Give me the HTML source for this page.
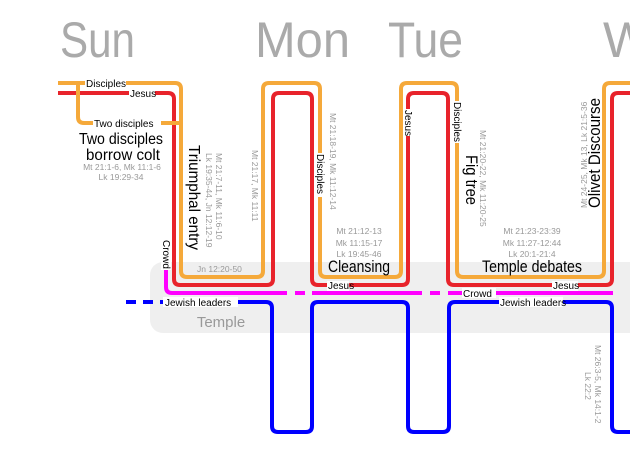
<!DOCTYPE html>
<html><head><meta charset="utf-8"><style>
html,body{margin:0;padding:0;background:#fff;}
svg{display:block;font-family:"Liberation Sans",sans-serif;}
</style></head><body>
<svg width="630" height="451" viewBox="0 0 630 451" xmlns="http://www.w3.org/2000/svg">
<rect x="150" y="262" width="500" height="71" rx="13" fill="#efefef"/>
<text x="221" y="327" font-size="15" fill="#999" text-anchor="middle">Temple</text>
<g font-size="50" fill="#aaa">
<text x="60" y="57" textLength="75" lengthAdjust="spacingAndGlyphs">Sun</text>
<text x="255" y="57" textLength="95" lengthAdjust="spacingAndGlyphs">Mon</text>
<text x="388" y="57" textLength="75" lengthAdjust="spacingAndGlyphs">Tue</text>
<text x="603" y="57">W</text>
</g>
<g fill="none" stroke-width="4" stroke-linecap="butt">
<path d="M126 302 H160" stroke="#00f" stroke-dasharray="10,7"/>
<path d="M160 302 H266 Q272 302 272 308 V426 Q272 432 278 432 H306 Q312 432 312 426 V308 Q312 302 318 302 H402 Q408 302 408 308 V426 Q408 432 414 432 H443 Q449 432 449 426 V308 Q449 302 455 302 H606 Q612 302 612 308 V426 Q612 432 618 432 H632" stroke="#00f"/>
<path d="M166 237 V287 Q166 293 172 293 H277" stroke="#f0f"/>
<path d="M277 293 H312" stroke="#f0f" stroke-dasharray="10,8"/>
<path d="M312 293 H412" stroke="#f0f"/>
<path d="M412 293 H450" stroke="#f0f" stroke-dasharray="10,8"/>
<path d="M450 293 H613" stroke="#f0f"/>
<path d="M58 93 H168 Q174 93 174 99 V279 Q174 285 180 285 H267 Q273 285 273 279 V99 Q273 93 279 93 H306 Q312 93 312 99 V279 Q312 285 318 285 H402 Q408 285 408 279 V99 Q408 93 414 93 H442 Q448 93 448 99 V279 Q448 285 454 285 H606 Q612 285 612 279 V99 Q612 93 618 93 H632" stroke="#e8232b"/>
<path d="M58 83 H175 Q181 83 181 89 V271 Q181 277 187 277 H257 Q263 277 263 271 V89 Q263 83 269 83 H314 Q320 83 320 89 V271 Q320 277 326 277 H395 Q401 277 401 271 V89 Q401 83 407 83 H451 Q457 83 457 89 V271 Q457 277 463 277 H598 Q604 277 604 271 V89 Q604 83 610 83 H632" stroke="#f5a93a"/>
<path d="M78 83 V117 Q78 123 84 123 H181" stroke="#f5a93a"/>
</g>
<g font-size="10" fill="#000">
<rect x="85" y="77" width="41" height="12" fill="#fff"/><text x="86" y="87">Disciples</text>
<rect x="129" y="87" width="26" height="12" fill="#fff"/><text x="130" y="97">Jesus</text>
<rect x="93" y="117" width="68" height="12" fill="#fff"/><text x="94" y="127">Two disciples</text>
<rect x="163" y="297" width="75" height="10" fill="#fff"/><text x="165" y="306">Jewish leaders</text>
<rect x="499" y="297" width="64" height="10" fill="#fff"/><text x="500" y="306">Jewish leaders</text>
<rect x="327" y="281" width="22" height="10" fill="#fff"/><text x="328" y="289">Jesus</text>
<rect x="552" y="281" width="26" height="10" fill="#fff"/><text x="553" y="289">Jesus</text>
<rect x="462" y="288" width="34" height="10" fill="#fff"/><text x="463" y="297">Crowd</text>
<rect x="161" y="235" width="10" height="35" fill="#fff"/><text transform="translate(163,240) rotate(90)">Crowd</text>
<rect x="315" y="153" width="10" height="44" fill="#fff"/><text transform="translate(317,154) rotate(90)">Disciples</text>
<rect x="403" y="109" width="10" height="27" fill="#fff"/><text transform="translate(405,110) rotate(90)">Jesus</text>
<rect x="452" y="101" width="10" height="42" fill="#fff"/><text transform="translate(454,102) rotate(90)">Disciples</text>
</g>
<g fill="#000" font-size="17">
<text x="121" y="144" text-anchor="middle" font-size="15.5" textLength="84" lengthAdjust="spacingAndGlyphs">Two disciples</text>
<text x="123" y="160" text-anchor="middle" font-size="15.5" textLength="74" lengthAdjust="spacingAndGlyphs">borrow colt</text>
<text transform="translate(189,145) rotate(90)" font-size="16" textLength="105" lengthAdjust="spacingAndGlyphs">Triumphal entry</text>
<text x="328" y="272" textLength="62" lengthAdjust="spacingAndGlyphs">Cleansing</text>
<text x="482" y="272" textLength="100" lengthAdjust="spacingAndGlyphs">Temple debates</text>
<text transform="translate(466,155) rotate(90)" textLength="50" lengthAdjust="spacingAndGlyphs">Fig tree</text>
<text transform="translate(600,208) rotate(-90)" textLength="110" lengthAdjust="spacingAndGlyphs">Olivet Discourse</text>
</g>
<g fill="#999" font-size="8.5">
<text x="122" y="170" text-anchor="middle">Mt 21:1-6, Mk 11:1-6</text>
<text x="121" y="180" text-anchor="middle">Lk 19:29-34</text>
<text transform="translate(216,153) rotate(90)">Mt 21:7-11, Mk 11:6-10</text>
<text transform="translate(206,153) rotate(90)">Lk 19:35-44, Jn 12:12-19</text>
<text transform="translate(252,150) rotate(90)">Mt 21:17, Mk 11:11</text>
<text x="197" y="272">Jn 12:20-50</text>
<text transform="translate(330,113) rotate(90)">Mt 21:18-19, Mk 11:12-14</text>
<text x="359" y="234" text-anchor="middle">Mt 21:12-13</text>
<text x="359" y="246" text-anchor="middle">Mk 11:15-17</text>
<text x="359" y="257" text-anchor="middle">Lk 19:45-46</text>
<text transform="translate(480,130) rotate(90)">Mt 21:20-22, Mk 11:20-25</text>
<text x="532" y="234" text-anchor="middle">Mt 21:23-23:39</text>
<text x="532" y="246" text-anchor="middle">Mk 11:27-12:44</text>
<text x="532" y="257" text-anchor="middle">Lk 20:1-21:4</text>
<text transform="translate(587,208) rotate(-90)">Mt 24-25, Mk 13, Lk 21:5-36</text>
<text transform="translate(595,345) rotate(90)">Mt 26:3-5, Mk 14:1-2</text>
<text transform="translate(585,372) rotate(90)">Lk 22:2</text>
</g>
</svg>
</body></html>
